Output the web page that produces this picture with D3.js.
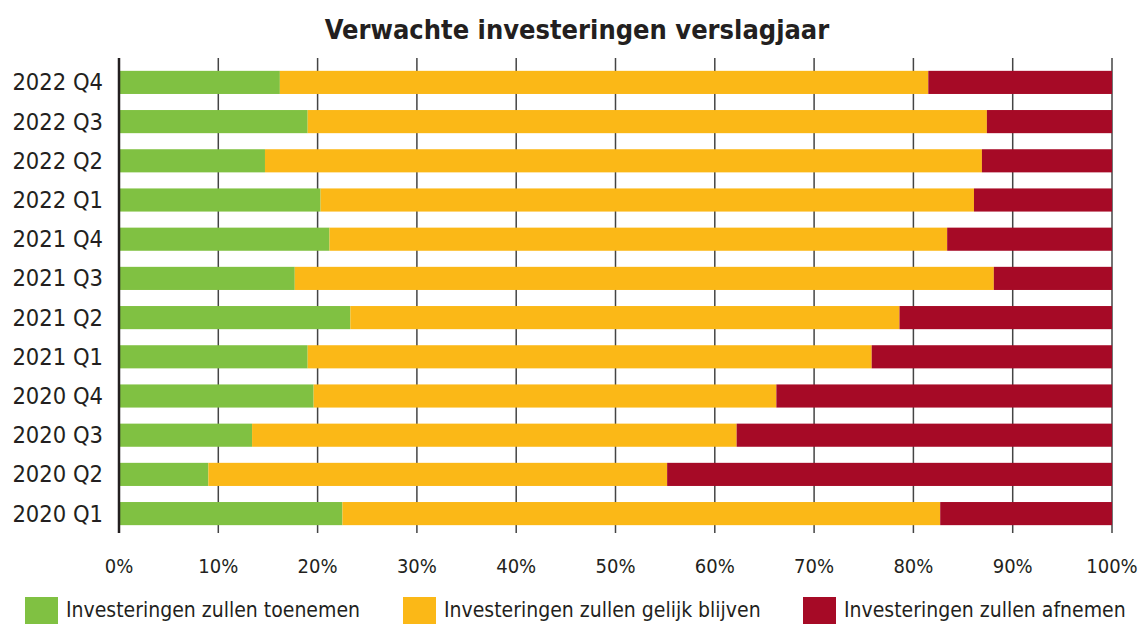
<!DOCTYPE html>
<html>
<head>
<meta charset="utf-8">
<script src="https://cdn.jsdelivr.net/npm/d3@7"></script>
<style>
  body { margin: 0; background: #fff; }
  svg text { font-family: "DejaVu Sans Condensed", "DejaVu Sans", sans-serif; font-stretch: condensed; fill: #231f20; }
</style>
</head>
<body>
<div id="container"></div>
<script>
/* DATA */
const quarters = ["2022 Q4", "2022 Q3", "2022 Q2", "2022 Q1", "2021 Q4", "2021 Q3",
  "2021 Q2", "2021 Q1", "2020 Q4", "2020 Q3", "2020 Q2", "2020 Q1"];
const toenemen = [16.2, 19.0, 14.7, 20.3, 21.2, 17.7, 23.3, 19.0, 19.6, 13.4, 9.0, 22.5];
const gelijk = [65.3, 68.4, 72.2, 65.8, 62.2, 70.4, 55.3, 56.8, 46.6, 48.8, 46.2, 60.2];
const afnemen = [18.5, 12.6, 13.1, 13.9, 16.6, 11.9, 21.4, 24.2, 33.8, 37.8, 44.8, 17.3];
const seriesNames = ["Investeringen zullen toenemen", "Investeringen zullen gelijk blijven", "Investeringen zullen afnemen"];
const colors = ["#80c142", "#fbb817", "#a60a26"];
const ticks = [0, 10, 20, 30, 40, 50, 60, 70, 80, 90, 100];

/* CONSTANTS */
const width = 1142;
const height = 624;
const left = 119, right = 1112;

const svg = d3.select("#container").append("svg")
  .attr("width", width)
  .attr("height", height)

const rows = quarters.map((q, i) => ({ q, vals: [toenemen[i], gelijk[i], afnemen[i]] }))

/* SCALES */
const xScale = d3.scaleLinear()
  .domain([0, 100])
  .range([left, right])

const yScale = d3.scaleBand()
  .domain(quarters)
  .range([63, 533])
  .paddingInner(0.41)
  .paddingOuter(0.2)

// gridlines
svg.selectAll("line.grid")
  .data(ticks.slice(1))
  .join("line")
  .attr("class", "grid")
  .attr("x1", d => xScale(d))
  .attr("x2", d => xScale(d))
  .attr("y1", 58)
  .attr("y2", 533)
  .attr("stroke", "#444")
  .attr("stroke-width", 1.5)

// stacked bars
const stackData = rows.map(r => {
  let acc = 0;
  return r.vals.map((v, k) => {
    const s = { q: r.q, k, x0: acc, x1: acc + v };
    acc += v;
    return s;
  })
}).flat()

svg.selectAll("rect.bar")
  .data(stackData)
  .join("rect")
  .attr("class", "bar")
  .attr("x", d => xScale(d.x0))
  .attr("y", d => yScale(d.q))
  .attr("width", d => xScale(d.x1) - xScale(d.x0))
  .attr("height", yScale.bandwidth())
  .attr("fill", d => colors[d.k])

// zero axis line
svg.append("line")
  .attr("x1", xScale(0)).attr("x2", xScale(0))
  .attr("y1", 58).attr("y2", 533)
  .attr("stroke", "#231f20")
  .attr("stroke-width", 2.5)

// x tick labels
svg.selectAll("text.xtick")
  .data(ticks)
  .join("text")
  .attr("class", "xtick")
  .attr("x", d => xScale(d))
  .attr("y", 573)
  .attr("text-anchor", "middle")
  .style("font-size", "20px")
  .text(d => d + "%")

// category labels
svg.selectAll("text.ytick")
  .data(quarters)
  .join("text")
  .attr("class", "ytick")
  .attr("x", 103)
  .attr("y", d => yScale(d) + yScale.bandwidth() / 2 + 8)
  .attr("text-anchor", "end")
  .style("font-size", "23.5px")
  .text(d => d)

// title
svg.append("text")
  .attr("x", 577)
  .attr("y", 39)
  .attr("text-anchor", "middle")
  .style("font-size", "27px")
  .style("font-weight", "bold")
  .text("Verwachte investeringen verslagjaar")

// legend
const legendX = [25, 403, 803];
const legend = svg.selectAll("g.legend")
  .data(seriesNames)
  .join("g")
  .attr("class", "legend")
  .attr("transform", (d, i) => `translate(${legendX[i]}, 597)`)

legend.append("rect")
  .attr("width", 33)
  .attr("height", 30)
  .attr("fill", (d, i) => colors[i])

legend.append("text")
  .attr("x", 41)
  .attr("y", 20)
  .style("font-size", "21px")
  .text(d => d)
</script>
</body>
</html>
